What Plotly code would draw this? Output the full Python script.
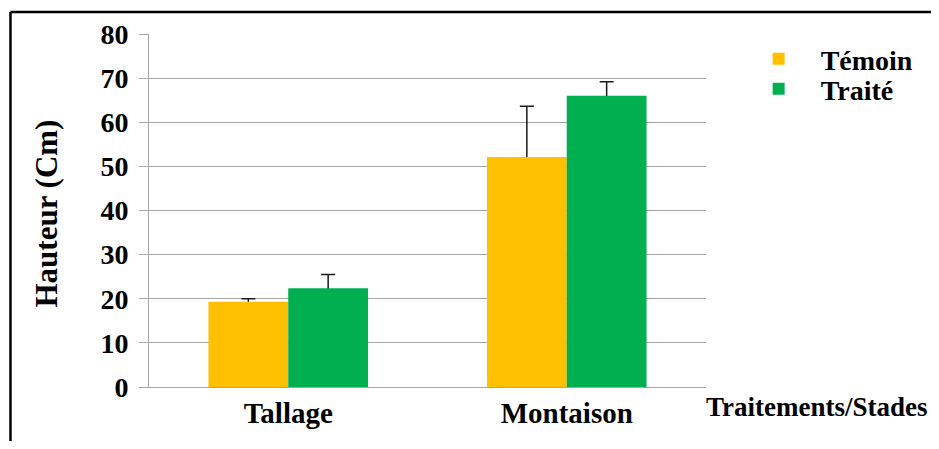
import plotly.graph_objects as go

categories = ["Tallage", "Montaison"]
temoin = [19.3, 52.1]
temoin_err = [0.7, 11.5]
traite = [22.4, 66.0]
traite_err = [3.1, 3.2]
y_ticks = [0, 10, 20, 30, 40, 50, 60, 70, 80]

FONT = "Liberation Serif, Times New Roman, serif"
ERR = dict(color="#1a1a1a", thickness=1.5, width=7)

fig = go.Figure()
# error bars first (drawn under the bars so only the upper part shows)
for vals, errs, grp in [(temoin, temoin_err, "a"), (traite, traite_err, "b")]:
    fig.add_trace(go.Bar(
        x=categories, y=vals, offsetgroup=grp, showlegend=False, hoverinfo="skip",
        marker=dict(color="rgba(0,0,0,0)", line=dict(width=0)),
        error_y=dict(type="data", array=errs, arrayminus=[0.5 for _ in errs],
                     symmetric=False, **ERR),
    ))
fig.add_trace(go.Bar(
    name="Témoin", x=categories, y=temoin, offsetgroup="a", legend="legend",
    marker=dict(color="#FFC000", line=dict(width=0)),
))
fig.add_trace(go.Bar(
    name="Traité", x=categories, y=traite, offsetgroup="b", legend="legend2",
    marker=dict(color="#00B050", line=dict(width=0)),
))

LEG = dict(xanchor="left", yanchor="top", itemwidth=74, tracegroupgap=0,
           font=dict(family=FONT, size=28, color="black", weight="bold"),
           bgcolor="rgba(0,0,0,0)")

fig.update_layout(
    width=923, height=433,
    margin=dict(l=141, r=223, t=26, b=54),
    paper_bgcolor="white", plot_bgcolor="white",
    barmode="group", bargap=0.427, bargroupgap=0,
    font=dict(family=FONT, size=27, color="black", weight="bold"),
    showlegend=True,
    legend=dict(x=1.055, y=1.0, **LEG),
    legend2=dict(x=1.055, y=0.915, **LEG),
    xaxis=dict(showgrid=False, showline=True, linecolor="#a6a6a6", linewidth=1,
               ticks="", tickfont=dict(family=FONT, size=29, weight="bold"),
               zeroline=False),
    yaxis=dict(range=[0, 80], tickvals=y_ticks, showgrid=True, gridcolor="#a6a6a6",
               gridwidth=1, showline=True, linecolor="#a6a6a6", linewidth=1,
               ticks="outside", ticklen=9, tickcolor="#a6a6a6",
               ticklabelstandoff=5,
               tickfont=dict(family=FONT, size=28, weight="bold"),
               zeroline=False),
    annotations=[
        dict(text="Hauteur (Cm)", xref="paper", yref="paper",
             x=-0.184, y=0.49, textangle=-90, showarrow=False,
             xanchor="center", yanchor="middle",
             font=dict(family=FONT, size=31, color="black", weight="bold")),
        dict(text="Traitements/Stades", xref="paper", yref="paper",
             x=0.9964, y=-0.057, showarrow=False, xanchor="left", yanchor="middle",
             font=dict(family=FONT, size=27, color="black", weight="bold")),
    ],
    shapes=[
        dict(type="line", xref="paper", yref="paper", x0=-0.2487, x1=1.42,
             y0=1.062, y1=1.062, line=dict(color="black", width=2.5)),
        dict(type="line", xref="paper", yref="paper", x0=-0.2487, x1=-0.2487,
             y0=1.062, y1=-0.2, line=dict(color="black", width=2.5)),
    ],
)

fig.write_html("out.html")
